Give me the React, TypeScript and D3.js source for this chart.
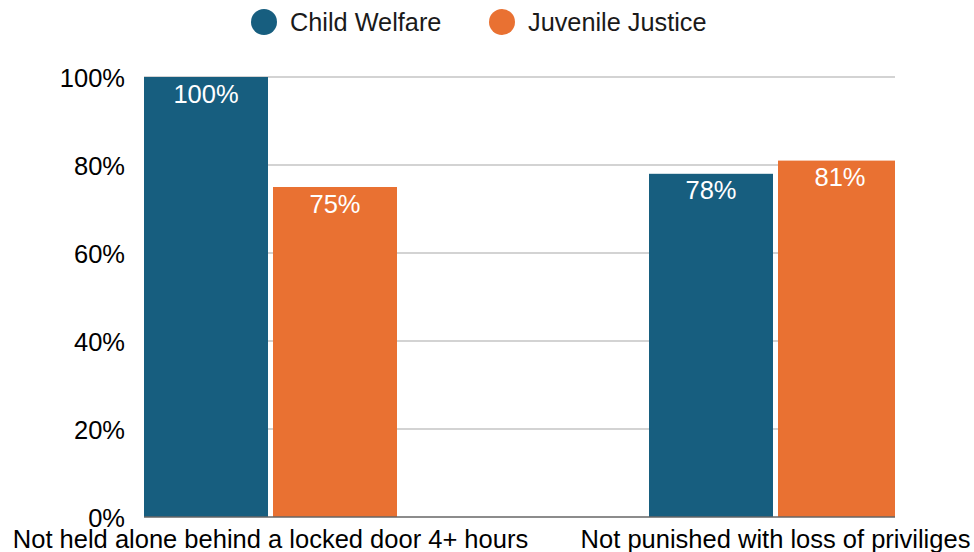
import React from "react";
import * as d3 from "d3";

const categories = ["Not held alone behind a locked door 4+ hours", "Not punished with loss of priviliges"];
const seriesNames = ["Child Welfare", "Juvenile Justice"];
const childWelfare = [1.0, 0.78];
const juvenileJustice = [0.75, 0.81];
const yTicks = [0, 0.2, 0.4, 0.6, 0.8, 1.0];
const colors = ["#175e7f", "#e97132"];

const W = 974;
const H = 552;
const plotLeft = 144;
const plotRight = 895;
const plotTop = 77;
const plotBottom = 517;
const FONT = "'Liberation Sans', Arial, sans-serif";

export default function App() {
  const y = d3.scaleLinear().domain([0, 1]).range([plotBottom, plotTop]);
  const x = d3.scaleBand<string>().domain(categories).range([18, 1028]).paddingInner(0).paddingOuter(0);
  const groupW = 253;
  const inner = d3.scaleBand<string>().domain(seriesNames).range([0, groupW]).paddingInner(5 / 129).paddingOuter(0);
  const series = [childWelfare, juvenileJustice];
  const fmt = d3.format(".0%");

  return (
    <svg
      width={W}
      height={H}
      style={{ position: "fixed", left: 0, top: 0, display: "block", fontFamily: FONT }}
    >
      <defs>
        <clipPath id="plotclip">
          <rect x={plotLeft} y={0} width={plotRight - plotLeft} height={H} />
        </clipPath>
      </defs>
      <rect width={W} height={H} fill="#fff" />
      {yTicks.filter((t) => t > 0).map((t) => (
        <line key={t} x1={plotLeft} x2={plotRight} y1={y(t)} y2={y(t)} stroke="#c4c4c4" strokeWidth={1.3} />
      ))}
      <g clipPath="url(#plotclip)">
        {categories.map((c, i) => {
          const gx = (x(c) as number) + (x.bandwidth() - groupW) / 2;
          return seriesNames.map((s, j) => {
            const v = series[j][i];
            const bx = gx + (inner(s) as number);
            return (
              <g key={c + s}>
                <rect x={bx} y={y(v)} width={inner.bandwidth()} height={plotBottom - y(v)} fill={colors[j]} />
                <text x={bx + inner.bandwidth() / 2} y={y(v) + 25.5} textAnchor="middle" fill="#fff" fontSize={25.5}>
                  {fmt(v)}
                </text>
              </g>
            );
          });
        })}
      </g>
      <line x1={plotLeft} x2={plotRight} y1={plotBottom} y2={plotBottom} stroke="#666" strokeWidth={1.3} />
      {yTicks.map((t) => (
        <text key={t} x={125} y={y(t) + 9.5} textAnchor="end" fontSize={25.5} fill="#000">
          {fmt(t)}
        </text>
      ))}
      {categories.map((c) => (
        <text key={c} x={(x(c) as number) + x.bandwidth() / 2} y={548} textAnchor="middle" fontSize={25.5} fill="#000">
          {c}
        </text>
      ))}
      {seriesNames.map((s, j) => {
        const cx = [264, 502][j];
        return (
          <g key={s}>
            <circle cx={cx} cy={22} r={13} fill={colors[j]} />
            <text x={cx + 26} y={31} fontSize={25.3} fill="#1a1a1a">
              {s}
            </text>
          </g>
        );
      })}
    </svg>
  );
}
